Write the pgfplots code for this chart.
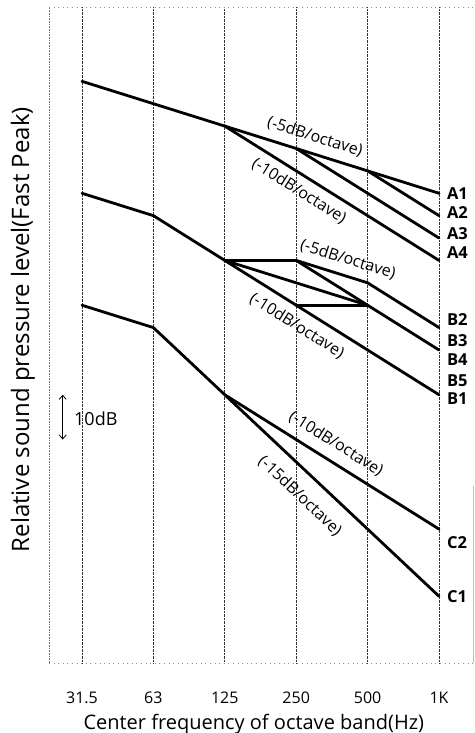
\documentclass[border=0pt]{standalone}
\usepackage{fontspec}
\setmainfont{Open Sans}
\usepackage{pgfplots}
\pgfplotsset{compat=1.18}
\usetikzlibrary{arrows.meta}
\begin{document}
\begin{tikzpicture}
\useasboundingbox (-49pt,-70pt) rectangle (425pt,663pt);
\begin{axis}[
  at={(0,0)}, anchor=south west,
  scale only axis, width=424pt, height=656pt,
  xmin=-0.462, xmax=5.476, ymin=-19.9, ymax=126.6,
  axis line style={draw=none},
  major tick length=0pt,
  xtick={0,1,2,3,4,5}, xticklabels={31.5,63,125,250,500,1K},
  ytick=\empty,
  xmajorgrids, grid style={densely dotted, line width=0.75pt, black!80},
  xticklabel style={font=\fontsize{16}{19}\selectfont, anchor=base, yshift=-40pt},
  xlabel={Center frequency of octave band(Hz)},
  xlabel style={font=\fontsize{20}{24}\selectfont, at={(axis description cs:0.483,0)}, anchor=base, yshift=-66pt},
  ylabel={Relative sound pressure level(Fast Peak)},
  ylabel style={font=\fontsize{24}{28}\selectfont, at={(axis description cs:-0.0613,0.508)}, anchor=center},
  clip=false,
]
\pgfplotsset{curve/.style={line width=2.8pt, black, line join=round, line cap=round, mark=none}}
% frame
\draw[densely dotted, black!55, line width=0.6pt] (rel axis cs:0,0) -- (rel axis cs:0,1);
\draw[loosely dotted, black!45, line width=0.6pt] (rel axis cs:0,1) -- (rel axis cs:1,1);
\draw[loosely dotted, black!45, line width=0.6pt] (rel axis cs:0,0) -- (rel axis cs:1,0);
\draw[black!25, line width=0.6pt] (rel axis cs:1,0) -- (rel axis cs:1,0.27);
% A group
\addplot[curve] coordinates {(0,110) (1,105) (2,100) (3,95) (4,90) (5,85)};
\addplot[curve] coordinates {(4,90) (5,80)};
\addplot[curve] coordinates {(3,95) (4,85) (5,75)};
\addplot[curve] coordinates {(2,100) (3,90) (4,80) (5,70)};
% B group
\addplot[curve] coordinates {(0,85) (1,80) (2,70) (3,60) (4,50) (5,40)};
\addplot[curve] coordinates {(2,70) (3,70) (4,65) (5,55)};
\addplot[curve] coordinates {(3,70) (4,60) (5,50)};
\addplot[curve] coordinates {(2,70) (3,65) (4,60)};
\addplot[curve] coordinates {(3,60) (4,60)};
% C group
\addplot[curve] coordinates {(0,60) (1,55) (2,40) (3,25) (4,10) (5,-5)};
\addplot[curve] coordinates {(2,40) (3,30) (4,20) (5,10)};
% slope labels
\tikzset{slope/.style={font=\fontsize{16}{19}\selectfont, inner sep=0pt}}
\node[slope, rotate=-17.4] at (axis cs:3.263,97.6) {(-5dB/octave)};
\node[slope, rotate=-32.1] at (axis cs:3.04,85.5) {(-10dB/octave)};
\node[slope, rotate=-17.4] at (axis cs:3.725,70.2) {(-5dB/octave)};
\node[slope, rotate=-32.1] at (axis cs:3.01,55.4) {(-10dB/octave)};
\node[slope, rotate=-32.1] at (axis cs:3.557,29.1) {(-10dB/octave)};
\node[slope, rotate=-43.3] at (axis cs:3.053,17.4) {(-15dB/octave)};
% curve names
\tikzset{cname/.style={font=\bfseries\fontsize{16.5}{19}\selectfont, inner sep=0pt, anchor=west}}
\node[cname] at (axis cs:5.11,84.9) {A1};
\node[cname] at (axis cs:5.11,80.8) {A2};
\node[cname] at (axis cs:5.11,76.1) {A3};
\node[cname] at (axis cs:5.11,71.7) {A4};
\node[cname] at (axis cs:5.11,56.7) {B2};
\node[cname] at (axis cs:5.11,52.2) {B3};
\node[cname] at (axis cs:5.11,47.8) {B4};
\node[cname] at (axis cs:5.11,43.1) {B5};
\node[cname] at (axis cs:5.11,39.1) {B1};
\node[cname] at (axis cs:5.11,6.9) {C2};
\node[cname] at (axis cs:5.11,-5.1) {C1};
% 10 dB scale arrow
\draw[{Straight Barb[length=4pt,width=7pt]}-{Straight Barb[length=4pt,width=7pt]}, line width=0.8pt] (axis cs:-0.27,30) -- (axis cs:-0.27,40);
\node[font=\fontsize{18}{21}\selectfont, inner sep=0pt, anchor=west] at (axis cs:-0.112,34.6) {10dB};
\end{axis}
\end{tikzpicture}
\end{document}
